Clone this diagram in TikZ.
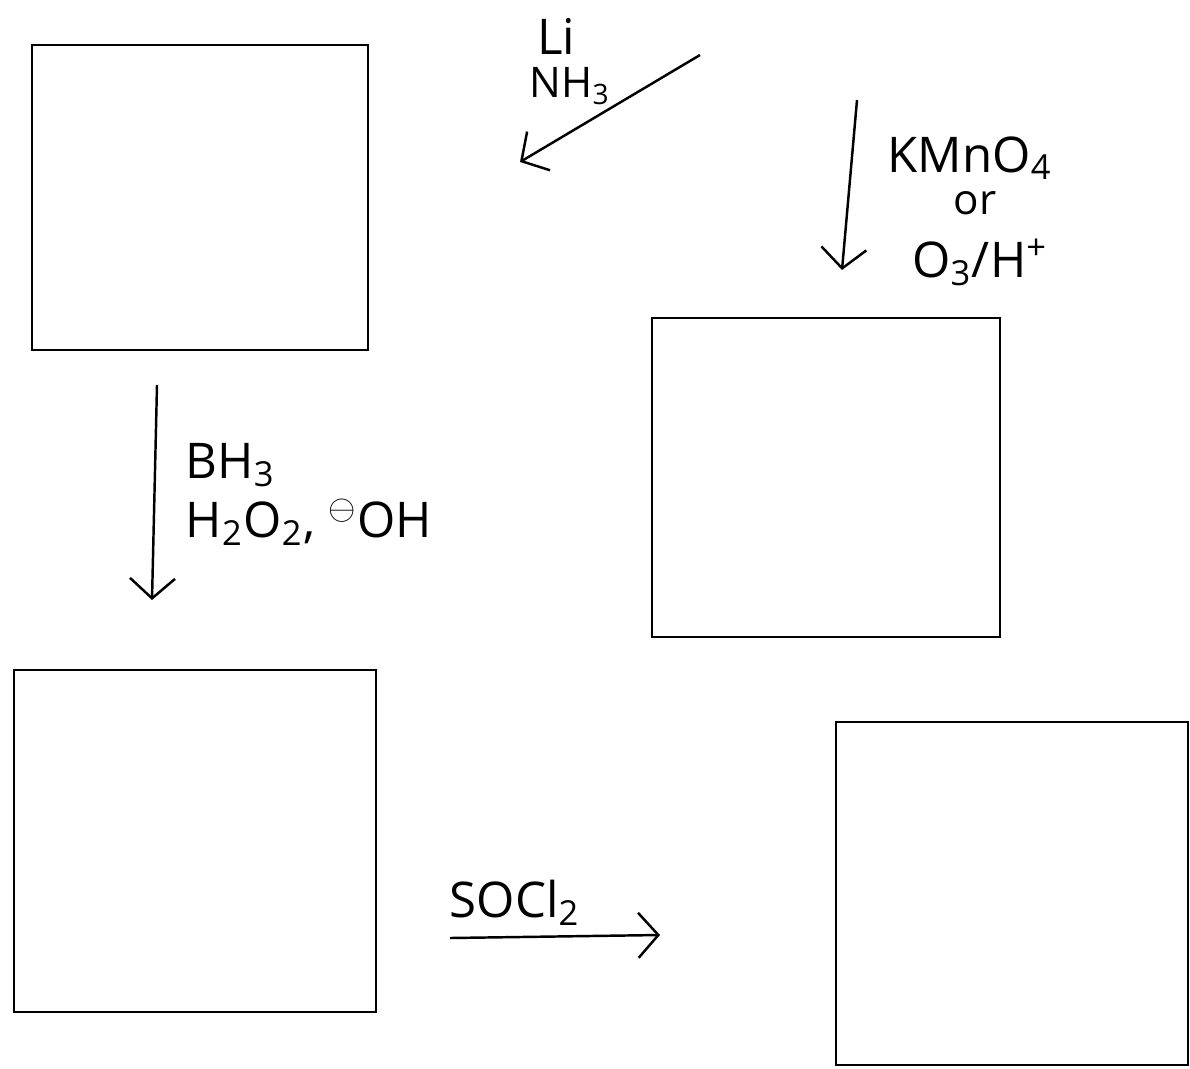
\documentclass[tikz,border=0pt]{standalone}
\usepackage{amsmath}
\usepackage{amssymb}
\usepackage{fontspec}
\setmainfont{Open Sans}
\usetikzlibrary{arrows.meta}

\tikzset{
    box/.style={draw, line width=0.7pt, minimum width=#1, inner sep=0pt},
    rxn/.style={line width=0.7pt, -{Straight Barb[length=2mm,width=4.5mm,line width=0.7pt]}},
    reagent/.style={font=\fontsize{14}{17}\selectfont, inner sep=0pt}
}

\begin{document}
\begin{tikzpicture}
    \useasboundingbox (0,0) rectangle (11.9,-10.68);

    % Kaesten
    \node[box=3.36cm, minimum height=3.05cm] (start) at (2.00,-1.975) {};
    \node[box=3.48cm, minimum height=3.19cm] (acid) at (8.26,-4.775) {};
    \node[box=3.62cm, minimum height=3.42cm] (alcohol) at (1.95,-8.41) {};
    \node[box=3.52cm, minimum height=3.43cm] (chloride) at (10.12,-8.935) {};

    % Pfeile
    \coordinate (birchA) at (7.00,-0.55);
    \coordinate (birchB) at (5.20,-1.62);
    \coordinate (oxA) at (8.57,-1.00);
    \coordinate (oxB) at (8.42,-2.70);
    \coordinate (hbA) at (1.57,-3.85);
    \coordinate (hbB) at (1.52,-6.00);
    \coordinate (clA) at (4.50,-9.38);
    \coordinate (clB) at (6.60,-9.35);

    \draw[rxn] (birchA) -- (birchB);
    \draw[rxn] (oxA) -- (oxB);
    \draw[rxn] (hbA) -- (hbB);
    \draw[rxn] (clA) -- (clB);

    % Reagenzien
    \node[reagent] (li) at (5.56,-0.36) {Li};
    \node[reagent, font=\fontsize{12}{14}\selectfont] (nh) at (5.70,-0.86) {NH\textsubscript{3}};
    \node[reagent] (kmno) at (9.70,-1.58) {KMnO\textsubscript{4}};
    \node[reagent, font=\fontsize{12}{14}\selectfont] (oder) at (9.75,-2.03) {or};
    \node[reagent] (ozon) at (9.80,-2.62) {O\textsubscript{3}/H\textsuperscript{+}};
    \node[reagent, anchor=west] (bh) at (1.85,-4.65) {BH\textsubscript{3}};
    \node[reagent, anchor=west] (perox) at (1.85,-5.22) {H\textsubscript{2}O\textsubscript{2}, \textsuperscript{$\ominus$}OH};
    \node[reagent] (socl) at (5.15,-9.03) {SOCl\textsubscript{2}};
\end{tikzpicture}
\end{document}
